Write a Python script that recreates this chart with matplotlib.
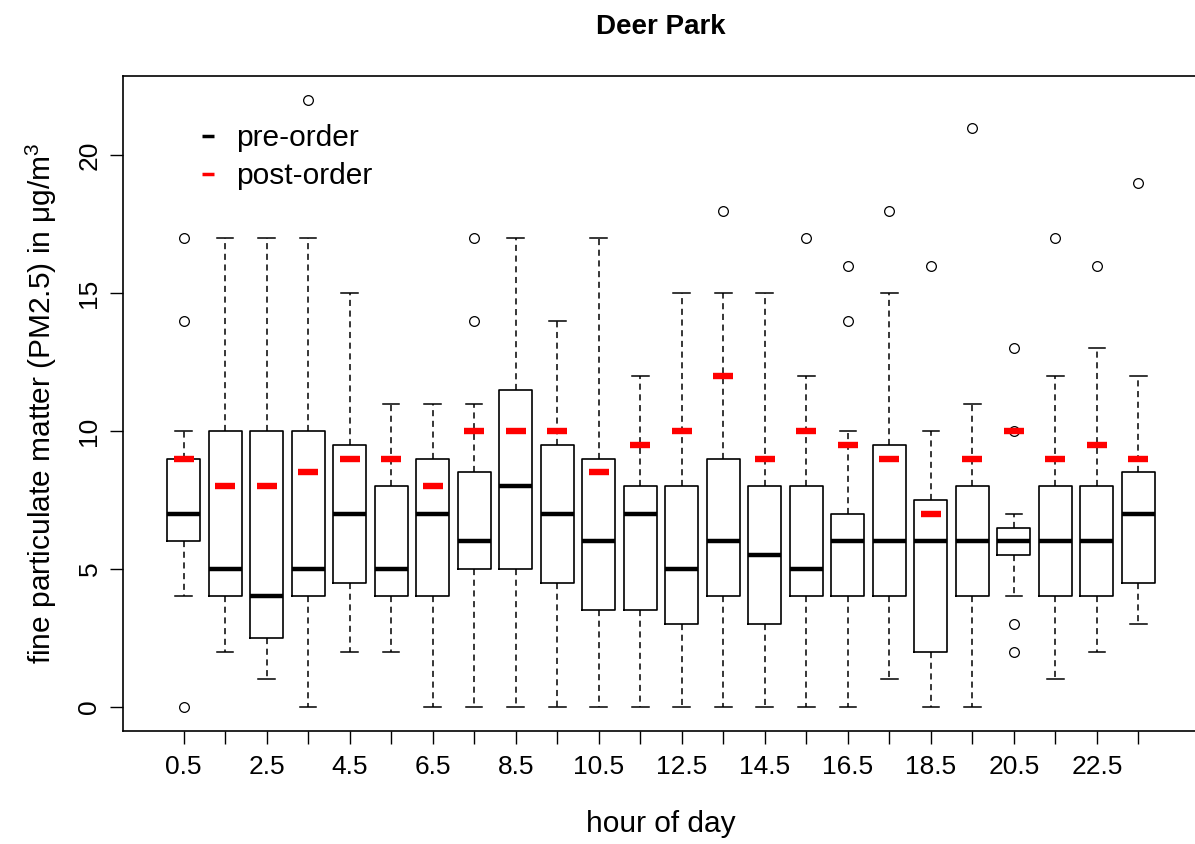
import matplotlib
matplotlib.use("Agg")
import matplotlib.pyplot as plt
from matplotlib.lines import Line2D

plt.rcParams['font.family'] = ['Liberation Sans', 'DejaVu Sans']
plt.rcParams['mathtext.fontset'] = 'custom'
plt.rcParams['mathtext.rm'] = 'Liberation Sans'
plt.rcParams['mathtext.default'] = 'regular'

# hourly PM2.5, pre-order boxes and post-order medians
hours = ["0.5", "1.5", "2.5", "3.5", "4.5", "5.5", "6.5", "7.5", "8.5", "9.5", "10.5", "11.5",
         "12.5", "13.5", "14.5", "15.5", "16.5", "17.5", "18.5", "19.5", "20.5", "21.5", "22.5", "23.5"]
whislo = [4, 2, 1, 0, 2, 2, 0, 0, 0, 0, 0, 0, 0, 0, 0, 0, 0, 1, 0, 0, 4, 1, 2, 3]
q1 = [6, 4, 2.5, 4, 4.5, 4, 4, 5, 5, 4.5, 3.5, 3.5, 3, 4, 3, 4, 4, 4, 2, 4, 5.5, 4, 4, 4.5]
med = [7, 5, 4, 5, 7, 5, 7, 6, 8, 7, 6, 7, 5, 6, 5.5, 5, 6, 6, 6, 6, 6, 6, 6, 7]
q3 = [9, 10, 10, 10, 9.5, 8, 9, 8.5, 11.5, 9.5, 9, 8, 8, 9, 8, 8, 7, 9.5, 7.5, 8, 6.5, 8, 8, 8.5]
whishi = [10, 17, 17, 17, 15, 11, 11, 11, 17, 14, 17, 12, 15, 15, 15, 12, 10, 15, 10, 11, 7, 12, 13, 12]
fliers = [[0, 14, 17], [], [], [22], [], [], [], [14, 17], [], [], [], [],
          [], [18], [], [17], [14, 16], [18], [16], [21], [2, 3, 10, 13], [17], [16], [19]]
post = [9, 8, 8, 8.5, 9, 9, 8, 10, 10, 10, 8.5, 9.5, 10, 12, 9, 10, 9.5, 9, 7, 9, 10, 9, 9.5, 9]

stats = []
for i in range(len(hours)):
    stats.append({'whislo': whislo[i], 'q1': q1[i], 'med': med[i], 'q3': q3[i],
                  'whishi': whishi[i], 'fliers': fliers[i]})

pos = list(range(1, len(hours) + 1))

fig = plt.figure(figsize=(11.95, 8.44), dpi=100)
ax = fig.add_axes([123 / 1195, 1 - 731 / 844, 1076 / 1195, 655 / 844])

ax.bxp(stats, positions=pos, widths=0.8, patch_artist=False,
       boxprops=dict(color='black', linewidth=1.2),
       medianprops=dict(color='black', linewidth=3.2, solid_capstyle='butt'),
       whiskerprops=dict(color='black', linewidth=1.1, linestyle=(0, (4, 3))),
       capprops=dict(color='black', linewidth=1.1),
       capwidths=0.4,
       flierprops=dict(marker='o', markersize=7, markerfacecolor='none',
                       markeredgecolor='black', markeredgewidth=0.9))

# post-order medians as red dashes
ax.plot(pos, post, linestyle='none', marker='_', markersize=15, markeredgewidth=4.6,
        color='red', zorder=5)

ax.set_xlim(-0.46, 25.46)
ax.set_ylim(-0.88, 22.88)
ax.set_xticks(pos)
ax.set_xticklabels([h if i % 2 == 0 else '' for i, h in enumerate(hours)])
ax.set_yticks([0, 5, 10, 15, 20])
ax.set_yticklabels(['0', '5', '10', '15', '20'], rotation=90, va='center')
ax.tick_params(axis='both', length=9.5, width=1, labelsize=19, pad=6)
ax.tick_params(axis='x', pad=8)
for s in ax.spines.values():
    s.set_linewidth(1.2)

ax.set_xlabel('hour of day', fontsize=21.5, labelpad=22)
ax.set_ylabel(r'fine particulate matter (PM2.5) in μg/m$^{3}$', fontsize=21.5, labelpad=13)
ax.set_title('Deer Park', fontsize=20, fontweight='bold', pad=30)

handles = [Line2D([], [], linestyle='none', marker='_', markersize=8, markeredgewidth=2.5, color='black'),
           Line2D([], [], linestyle='none', marker='_', markersize=8, markeredgewidth=2.5, color='red')]
ax.legend(handles, ['pre-order', 'post-order'], loc='upper left', bbox_to_anchor=(0.043, 0.967),
          frameon=False, fontsize=21.5, handlelength=0.8, handletextpad=0.55, labelspacing=0.32)

fig.savefig('out.png', dpi=100)
